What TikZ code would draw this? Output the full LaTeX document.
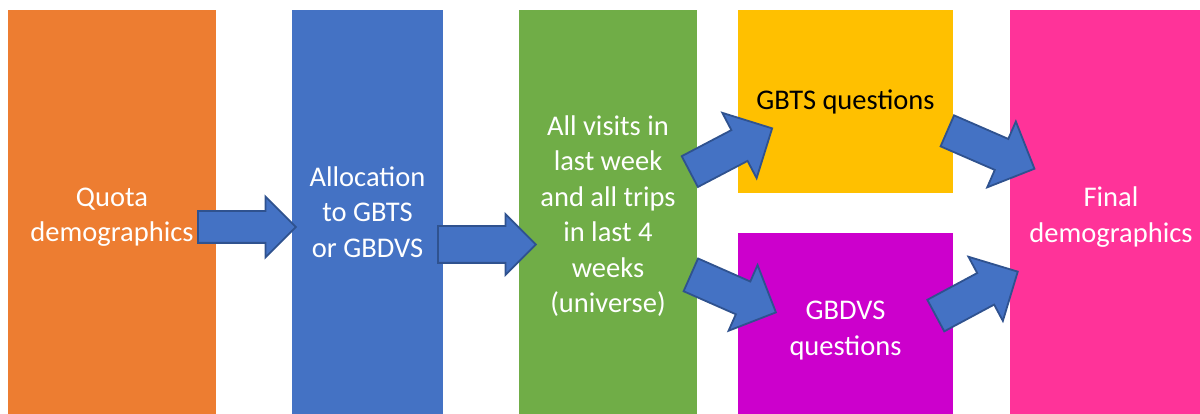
\documentclass[tikz,border=0pt]{standalone}
\usepackage{fontspec}
\setmainfont{Carlito}
\usetikzlibrary{shapes.arrows}

\definecolor{quotaorange}{HTML}{ED7D31}
\definecolor{allocblue}{HTML}{4472C4}
\definecolor{univgreen}{HTML}{70AD47}
\definecolor{gbtsyellow}{HTML}{FFC000}
\definecolor{gbdvspurple}{HTML}{CC00CC}
\definecolor{finalpink}{HTML}{FF3399}
\definecolor{arrowline}{HTML}{2F528F}

\tikzset{
  box/.style={rectangle, inner sep=0pt, align=center, text=white,
    font=\fontsize{28.5pt}{35.5pt}\selectfont},
  blockarrow/.style={single arrow, draw=arrowline, fill=allocblue,
    line width=1.8pt, inner sep=0pt, text depth=0pt, anchor=tail,
    single arrow tip angle=90}
}

\begin{document}
\begin{tikzpicture}[x=1pt,y=-1pt]
\useasboundingbox (0,0) rectangle (1200,414);
\clip (0,0) rectangle (1200,414);
% boxes (the lower ones run past the bottom edge and are clipped)
\node [box, fill=quotaorange, minimum width=208pt, minimum height=414pt] (quota) at (112,217) {Quota\\demographics};
\node [box, fill=allocblue, minimum width=151pt, minimum height=404pt] (alloc) at (367.5,212) {Allocation\\to GBTS\\or GBDVS};
\node [box, fill=univgreen, minimum width=178pt, minimum height=412pt] (universe) at (608,216) {All visits in\\last week\\and all trips\\in last 4\\weeks\\(universe)};
\node [box, fill=gbtsyellow, text=black, minimum width=215pt, minimum height=183pt] (gbts) at (845.5,101.5) {GBTS questions};
\node [box, fill=gbdvspurple, minimum width=215pt, minimum height=195pt] (gbdvs) at (845.5,330.5) {GBDVS\\questions};
\node [box, fill=finalpink, minimum width=202pt, minimum height=414pt] (final) at (1111,217) {Final\\demographics};
% arrows
\node [blockarrow, minimum height=98pt, text height=30pt, minimum width=59pt, single arrow head extend=14.5pt] (arr1) at (197,227) {};
\node [blockarrow, minimum height=98pt, text height=35pt, minimum width=59pt, single arrow head extend=12pt] (arr2) at (437,244.5) {};
\node [blockarrow, rotate=27.7, minimum height=93pt, text height=33pt, minimum width=72pt, single arrow head extend=19.5pt] (arr3) at (689,172) {};
\node [blockarrow, rotate=-23.8, minimum height=93pt, text height=34pt, minimum width=70pt, single arrow head extend=18pt] (arr4) at (690,274.5) {};
\node [blockarrow, rotate=-23.5, minimum height=95pt, text height=32pt, minimum width=70pt, single arrow head extend=19pt] (arr5) at (946.5,130.5) {};
\node [blockarrow, rotate=28.2, minimum height=93pt, text height=34pt, minimum width=71pt, single arrow head extend=18.5pt] (arr6) at (935,316) {};
\end{tikzpicture}
\end{document}
